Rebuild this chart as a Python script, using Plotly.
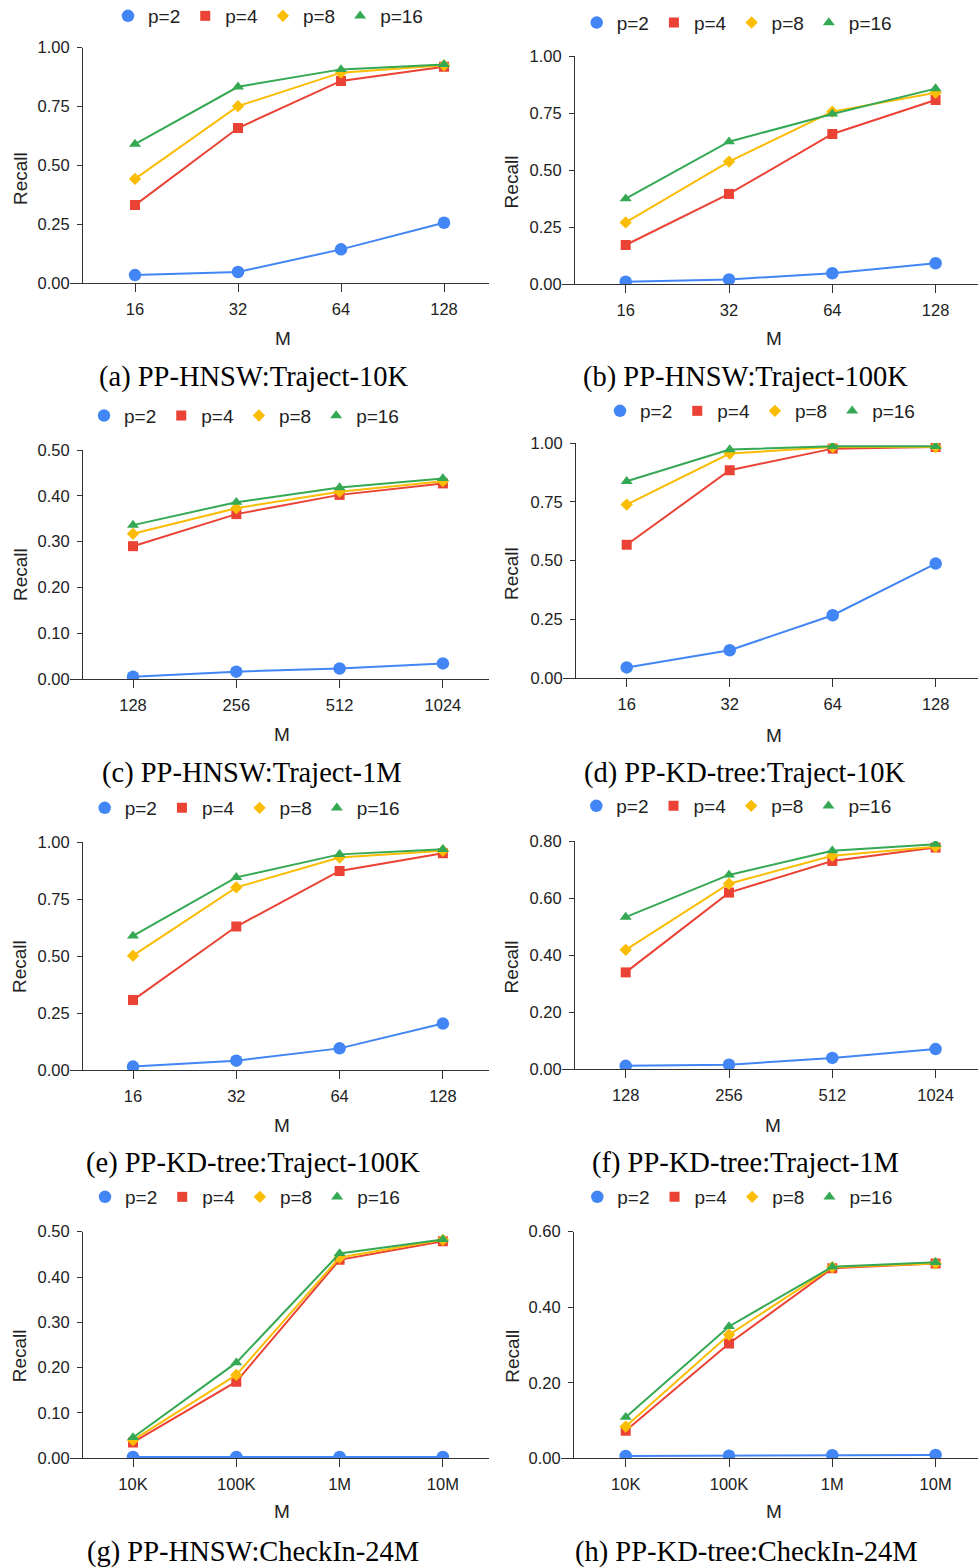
import plotly.graph_objects as go

W, H = 979, 1568

series_names = ["p=2", "p=4", "p=8", "p=16"]
colors = ["#4285F4", "#EA4335", "#FBBC04", "#34A853"]
symbols = ["circle", "square", "diamond", "triangle-up"]
msizes = [12.5, 10, 9.5, 10.5]

m_small = ["16", "32", "64", "128"]
m_1m = ["128", "256", "512", "1024"]
m_checkin = ["10K", "100K", "1M", "10M"]

# (a) PP-HNSW:Traject-10K
a_p2 = [0.035, 0.048, 0.144, 0.257]
a_p4 = [0.332, 0.659, 0.859, 0.919]
a_p8 = [0.443, 0.752, 0.894, 0.925]
a_p16 = [0.591, 0.834, 0.908, 0.929]
# (b) PP-HNSW:Traject-100K
b_p2 = [0.010, 0.020, 0.047, 0.091]
b_p4 = [0.171, 0.395, 0.658, 0.807]
b_p8 = [0.270, 0.537, 0.756, 0.839]
b_p16 = [0.374, 0.624, 0.746, 0.857]
# (c) PP-HNSW:Traject-1M
c_p2 = [0.005, 0.016, 0.023, 0.034]
c_p4 = [0.290, 0.360, 0.402, 0.427]
c_p8 = [0.317, 0.373, 0.409, 0.432]
c_p16 = [0.336, 0.386, 0.418, 0.438]
# (d) PP-KD-tree:Traject-10K
d_p2 = [0.045, 0.118, 0.267, 0.487]
d_p4 = [0.567, 0.884, 0.976, 0.983]
d_p8 = [0.738, 0.955, 0.983, 0.983]
d_p16 = [0.837, 0.972, 0.986, 0.986]
# (e) PP-KD-tree:Traject-100K
e_p2 = [0.015, 0.041, 0.095, 0.204]
e_p4 = [0.307, 0.630, 0.874, 0.952]
e_p8 = [0.502, 0.802, 0.933, 0.963]
e_p16 = [0.589, 0.846, 0.947, 0.969]
# (f) PP-KD-tree:Traject-1M
f_p2 = [0.011, 0.015, 0.039, 0.070]
f_p4 = [0.339, 0.619, 0.730, 0.777]
f_p8 = [0.418, 0.650, 0.748, 0.780]
f_p16 = [0.533, 0.681, 0.766, 0.789]
# (g) PP-HNSW:CheckIn-24M
g_p2 = [0.003, 0.003, 0.003, 0.003]
g_p4 = [0.035, 0.169, 0.438, 0.479]
g_p8 = [0.040, 0.184, 0.443, 0.482]
g_p16 = [0.046, 0.211, 0.452, 0.483]
# (h) PP-KD-tree:CheckIn-24M
h_p2 = [0.006, 0.007, 0.008, 0.009]
h_p4 = [0.073, 0.304, 0.503, 0.516]
h_p8 = [0.084, 0.327, 0.506, 0.516]
h_p16 = [0.109, 0.349, 0.507, 0.519]

captions = [
    "(a) PP-HNSW:Traject-10K", "(b) PP-HNSW:Traject-100K",
    "(c) PP-HNSW:Traject-1M", "(d) PP-KD-tree:Traject-10K",
    "(e) PP-KD-tree:Traject-100K", "(f) PP-KD-tree:Traject-1M",
    "(g) PP-HNSW:CheckIn-24M", "(h) PP-KD-tree:CheckIn-24M",
]

y_ticks_1 = [0, 0.25, 0.5, 0.75, 1.0]
y_ticks_05 = [0, 0.1, 0.2, 0.3, 0.4, 0.5]
y_ticks_08 = [0, 0.2, 0.4, 0.6, 0.8]
y_ticks_06 = [0, 0.2, 0.4, 0.6]

# layout geometry (pixels): yaxis x, right end, first category x, pitch, y top, y bottom,
# legend (first symbol x, y), caption (x, y), M (x, y), Recall (x, y)
panels = [
    dict(cats=m_small, data=[a_p2, a_p4, a_p8, a_p16], ymax=1.0, yt=y_ticks_1,
         yax=82, R=489, c0=135, p=103, top=47.7, bot=283.3,
         leg=(134, 16), cap=(253, 377), mt=(282.7, 338), rt=(20.7, 178.3)),
    dict(cats=m_small, data=[b_p2, b_p4, b_p8, b_p16], ymax=1.0, yt=y_ticks_1,
         yax=574, R=978, c0=625.7, p=103.3, top=56, bot=284,
         leg=(602.7, 22.7), cap=(745, 377), mt=(774, 338.7), rt=(511.7, 181.7)),
    dict(cats=m_1m, data=[c_p2, c_p4, c_p8, c_p16], ymax=0.5, yt=y_ticks_05,
         yax=82, R=489, c0=133, p=103.3, top=450, bot=679,
         leg=(110, 415.7), cap=(252, 773), mt=(281.7, 734.3), rt=(20, 575)),
    dict(cats=m_small, data=[d_p2, d_p4, d_p8, d_p16], ymax=1.0, yt=y_ticks_1,
         yax=575, R=978, c0=626.7, p=103, top=443, bot=678,
         leg=(626, 411), cap=(745, 773), mt=(774, 735), rt=(511.7, 573.3)),
    dict(cats=m_small, data=[e_p2, e_p4, e_p8, e_p16], ymax=1.0, yt=y_ticks_1,
         yax=82, R=489, c0=133, p=103.3, top=842.3, bot=1070,
         leg=(110.7, 808), cap=(253, 1163), mt=(281.7, 1125), rt=(19.3, 966.7)),
    dict(cats=m_1m, data=[f_p2, f_p4, f_p8, f_p16], ymax=0.8, yt=y_ticks_08,
         yax=574, R=978, c0=625.7, p=103.3, top=841, bot=1069,
         leg=(602.3, 806), cap=(745.5, 1163), mt=(773.3, 1125), rt=(511.7, 966.7)),
    dict(cats=m_checkin, data=[g_p2, g_p4, g_p8, g_p16], ymax=0.5, yt=y_ticks_05,
         yax=82, R=489, c0=133, p=103.3, top=1231.7, bot=1458.3,
         leg=(111, 1197), cap=(252.5, 1552), mt=(281.7, 1511.7), rt=(19.3, 1356)),
    dict(cats=m_checkin, data=[h_p2, h_p4, h_p8, h_p16], ymax=0.6, yt=y_ticks_06,
         yax=573, R=978, c0=625.7, p=103.3, top=1231.7, bot=1458.3,
         leg=(603.3, 1197), cap=(746, 1552), mt=(774, 1511.7), rt=(511.7, 1356)),
]

SANS = "Liberation Sans, Arial, sans-serif"
SERIF = "Liberation Serif, Times New Roman, serif"
AX = "#333333"
TXT = "#222222"

fig = go.Figure()
layout = dict(width=W, height=H,
              margin=dict(l=0, r=0, t=0, b=0, pad=0, autoexpand=False),
              paper_bgcolor="white", plot_bgcolor="white", showlegend=True)
annotations = []
n = len(panels)
for k, P in enumerate(panels, start=1):
    xs = "" if k == 1 else str(k)
    xo = str(k + n)
    L = P["yax"] - 12
    xr = [(L - P["c0"]) / P["p"], (P["R"] - P["c0"]) / P["p"]]
    xdom = [L / W, P["R"] / W]
    ydom = [1 - P["bot"] / H, 1 - P["top"] / H]
    legname = "legend" + xs
    for i, vals in enumerate(P["data"]):
        fig.add_trace(go.Scatter(
            x=P["cats"], y=vals, mode="lines", showlegend=False,
            line=dict(color=colors[i], width=2), xaxis="x" + xs, yaxis="y" + xs,
            hoverinfo="skip"))
        fig.add_trace(go.Scatter(
            x=P["cats"], y=vals, mode="markers", name=series_names[i],
            marker=dict(color=colors[i], symbol=symbols[i], size=msizes[i],
                        line=dict(width=0)),
            xaxis="x" + xs, yaxis="y" + xs, legend=legname))
    layout["xaxis" + xs] = dict(
        domain=xdom, anchor="y" + xs, type="category", range=xr,
        showline=True, linecolor=AX, linewidth=1, showgrid=False, zeroline=False,
        ticks="outside", ticklen=8, tickcolor=AX, tickwidth=1,
        ticklabelstandoff=3, automargin=False,
        tickfont=dict(family=SANS, size=16.5, color=TXT))
    layout["yaxis" + xs] = dict(
        domain=ydom, anchor="free", position=P["yax"] / W, range=[0, P["ymax"]],
        tickvals=P["yt"], tickformat=".2f",
        showline=True, linecolor=AX, linewidth=1, showgrid=False, zeroline=False,
        ticks="outside", ticklen=5, tickcolor=AX, tickwidth=1,
        ticklabelstandoff=4, automargin=False,
        tickfont=dict(family=SANS, size=16.5, color=TXT))
    # overlay axes: inner halves of the crossing tick marks
    layout["xaxis" + xo] = dict(
        domain=xdom, anchor="y" + xs, overlaying="x" + xs, type="linear",
        range=xr, tickvals=list(range(len(P["cats"]))), showticklabels=False,
        showline=False, showgrid=False, zeroline=False,
        ticks="inside", ticklen=8, tickcolor=AX, tickwidth=1)
    layout["yaxis" + xo] = dict(
        domain=ydom, anchor="free", position=P["yax"] / W, overlaying="y" + xs,
        range=[0, P["ymax"]], tickvals=P["yt"], showticklabels=False,
        showline=False, showgrid=False, zeroline=False,
        ticks="inside", ticklen=7, tickcolor=AX, tickwidth=1)
    layout[legname] = dict(
        orientation="h", x=(P["leg"][0] - 26) / W, xanchor="left",
        y=1 - P["leg"][1] / H, yanchor="middle",
        font=dict(family=SANS, size=19, color=TXT), bgcolor="rgba(0,0,0,0)",
        itemsizing="trace", borderwidth=0)
    annotations.append(dict(
        text=captions[k - 1], x=P["cap"][0] / W, y=1 - P["cap"][1] / H,
        xref="paper", yref="paper", xanchor="center", yanchor="middle",
        showarrow=False, font=dict(family=SERIF, size=28.5, color="black")))
    annotations.append(dict(
        text="M", x=P["mt"][0] / W, y=1 - P["mt"][1] / H,
        xref="paper", yref="paper", xanchor="center", yanchor="middle",
        showarrow=False, font=dict(family=SANS, size=19, color=TXT)))
    annotations.append(dict(
        text="Recall", x=P["rt"][0] / W, y=1 - P["rt"][1] / H, textangle=-90,
        xref="paper", yref="paper", xanchor="center", yanchor="middle",
        showarrow=False, font=dict(family=SANS, size=19, color=TXT)))

layout["annotations"] = annotations
fig.update_layout(**layout)
fig.write_html("out.html")
